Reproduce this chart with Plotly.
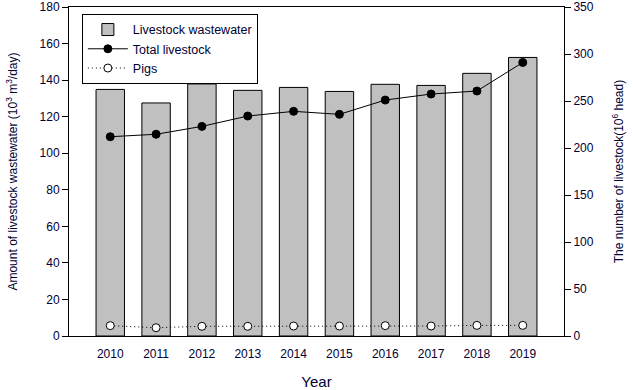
import plotly.graph_objects as go

years = [2010, 2011, 2012, 2013, 2014, 2015, 2016, 2017, 2018, 2019]
wastewater = [134.9, 127.5, 137.9, 134.4, 136.0, 133.8, 137.7, 137.1, 143.7, 152.4]
total_livestock = [212, 214.6, 223, 234, 239, 235.8, 251, 257.4, 260.6, 291]
pigs = [11.0, 8.8, 10.3, 10.3, 10.6, 10.6, 11.0, 10.6, 11.3, 11.3]

left_ticks = list(range(0, 181, 20))
right_ticks = list(range(0, 351, 50))

txt = "#000033"
font = "Liberation Sans, Arial, sans-serif"

fig = go.Figure()
fig.add_trace(go.Bar(
    x=years, y=wastewater, name="Livestock wastewater",
    marker=dict(color="#c0c0c0", line=dict(color="black", width=1)),
    width=0.62,
))
fig.add_trace(go.Scatter(
    x=years, y=total_livestock, name="Total livestock", yaxis="y2",
    mode="lines+markers",
    line=dict(color="black", width=1),
    marker=dict(color="black", size=8, line=dict(color="black", width=1)),
))
fig.add_trace(go.Scatter(
    x=years, y=pigs, name="Pigs", yaxis="y2",
    mode="lines+markers",
    line=dict(color="black", width=1, dash="1px,3px"),
    marker=dict(color="white", size=8, line=dict(color="black", width=1)),
))

fig.update_layout(
    width=633, height=390,
    margin=dict(l=69, r=69, t=7, b=54, autoexpand=False),
    paper_bgcolor="white", plot_bgcolor="white",
    font=dict(family=font, size=12, color=txt),
    showlegend=True,
    legend=dict(
        x=0.026, y=0.979, xanchor="left", yanchor="top",
        bordercolor="black", borderwidth=1, bgcolor="white",
        font=dict(size=12.5, color=txt), tracegroupgap=0,
        itemwidth=40,
    ),
    xaxis=dict(
        range=[2009.1, 2019.9], tickmode="array", tickvals=years,
        ticktext=[str(y) for y in years], ticks="", showgrid=False,
        showline=True, linecolor="black", linewidth=1, mirror=True,
        zeroline=False, automargin=False, ticklabelstandoff=7,
        title=dict(text="Year", font=dict(size=15, color=txt), standoff=16),
        tickfont=dict(size=12, color=txt),
    ),
    yaxis=dict(
        range=[0, 180], tickmode="array", tickvals=left_ticks,
        ticks="outside", ticklen=6, tickcolor="black",
        showgrid=False, showline=True, linecolor="black", linewidth=1,
        zeroline=False, automargin=False,
        title=dict(text="Amount of livestock wastewater (10<sup>3</sup> m<sup>3</sup>/day)",
                   font=dict(size=12, color=txt), standoff=19),
    ),
    yaxis2=dict(
        range=[0, 350], tickmode="array", tickvals=right_ticks,
        overlaying="y", side="right",
        ticks="outside", ticklen=6, tickcolor="black",
        showgrid=False, showline=True, linecolor="black", linewidth=1,
        zeroline=False, automargin=False,
        title=dict(text="The number of livestock(10<sup>6</sup> head)",
                   font=dict(size=12, color=txt), standoff=21),
    ),
)

fig.write_html("out.html", config={"displayModeBar": False},
               post_script="document.body.style.margin='0';")
